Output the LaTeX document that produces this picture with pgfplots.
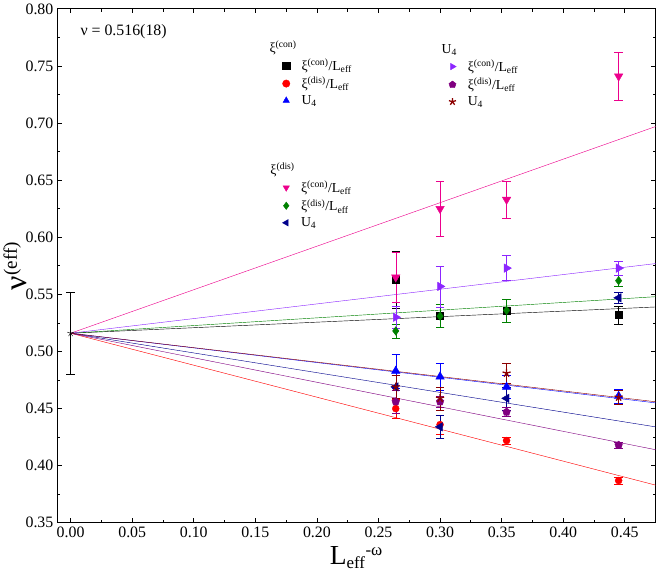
\documentclass[border=0pt]{standalone}
\usepackage{pgfplots}
\pgfplotsset{compat=1.18}
\usepackage{fontspec}
\setmainfont{Liberation Serif}
\definecolor{cviolet}{rgb}{0.55,0.15,1}
\definecolor{cpurple}{rgb}{0.5,0,0.5}
\definecolor{cdred}{rgb}{0.55,0,0}
\definecolor{cnavy}{rgb}{0,0,0.55}
\definecolor{cgreen}{rgb}{0,0.5,0}
\newcommand{\Le}{L\textsubscript{eff}}
\newcommand{\xc}{ξ\textsuperscript{(con)}}
\newcommand{\xd}{ξ\textsuperscript{(dis)}}
\newcommand{\U}{U\textsubscript{4}}
\begin{document}
\begin{tikzpicture}
\pgfplotsset{
  every axis/.append style={scale only axis, width=566pt, height=486pt,
    xmin=-0.011, xmax=0.475, ymin=0.35, ymax=0.80},
  ebar/.style={only marks, mark size=3.3pt, color=#1, error bars/y dir=both, error bars/y explicit, error bars/error bar style={color=#1}, error bars/error mark options={rotate=90,mark size=4pt,color=#1}},
  tri/.style={mark size=4.6pt},
  lg/.style={hide axis, font=\fontsize{13}{15}\selectfont,
  legend style={draw=none, fill=none, anchor=north west, row sep=3pt, column sep=10pt, nodes={inner sep=1pt}},
  legend cell align=left, legend image post style={mark size=3.5pt}},
}
\begin{axis}[
  font=\fontsize{15}{18}\selectfont,
  /pgf/number format/assume math mode=true,
  /pgf/number format/fixed, /pgf/number format/fixed zerofill, /pgf/number format/precision=2,
  xtick={0,0.05,...,0.451}, ytick={0.35,0.40,...,0.801},
  minor x tick num=1, minor y tick num=1,
  tick align=inside, axis line style={thick}, every tick/.style={black,thick},
  ylabel={\fontsize{30}{30}\selectfont ν\textsuperscript{\fontsize{18}{18}\selectfont(eff)}},
  xlabel={\fontsize{26}{26}\selectfont L\textsubscript{\fontsize{16}{16}\selectfont eff}\textsuperscript{\fontsize{16}{16}\selectfont -ω}},
  ylabel style={yshift=-8pt}, xlabel style={yshift=-2pt},
  clip=true,
]
\addplot[black] coordinates {(0,0.516) (0.475,0.539)};
\addplot[red] coordinates {(0,0.516) (0.475,0.383)};
\addplot[blue] coordinates {(0,0.516) (0.475,0.455)};
\addplot[magenta] coordinates {(0,0.516) (0.475,0.697)};
\addplot[cgreen] coordinates {(0,0.516) (0.475,0.548)};
\addplot[cnavy] coordinates {(0,0.516) (0.475,0.434)};
\addplot[cviolet] coordinates {(0,0.516) (0.475,0.577)};
\addplot[cpurple] coordinates {(0,0.516) (0.475,0.414)};
\addplot[cdred] coordinates {(0,0.516) (0.475,0.456)};
\addplot[ebar=black, mark=square*] coordinates {(0.264,0.563) +- (0,0.025) (0.300,0.531) +- (0,0.01) (0.354,0.536) +- (0,0.01) (0.445,0.532) +- (0,0.008)};
\addplot[ebar=red, mark=*] coordinates {(0.264,0.450) +- (0,0.008) (0.300,0.436) +- (0,0.008) (0.354,0.422) +- (0,0.003) (0.445,0.387) +- (0,0.003)};
\addplot[ebar=blue, tri, mark=triangle*] coordinates {(0.264,0.483) +- (0,0.015) (0.300,0.478) +- (0,0.012) (0.354,0.469) +- (0,0.01) (0.445,0.461) +- (0,0.006)};
\addplot[ebar=magenta, tri, mark=triangle*, mark options={rotate=180}] coordinates {(0.264,0.565) +- (0,0.022) (0.300,0.625) +- (0,0.024) (0.354,0.633) +- (0,0.016) (0.445,0.741) +- (0,0.021)};
\addplot[ebar=cgreen, mark=diamond*, mark size=4pt] coordinates {(0.264,0.518) +- (0,0.006) (0.300,0.531) +- (0,0.01) (0.354,0.536) +- (0,0.01) (0.445,0.562) +- (0,0.005)};
\addplot[ebar=cnavy, tri, mark=triangle*, mark options={rotate=90}] coordinates {(0.264,0.469) +- (0,0.01) (0.300,0.434) +- (0,0.01) (0.354,0.459) +- (0,0.01) (0.445,0.547) +- (0,0.005)};
\addplot[ebar=cviolet, tri, mark=triangle*, mark options={rotate=-90}] coordinates {(0.264,0.530) +- (0,0.01) (0.300,0.557) +- (0,0.018) (0.354,0.573) +- (0,0.011) (0.445,0.573) +- (0,0.006)};
\addplot[ebar=cpurple, mark=pentagon*, mark size=3.8pt] coordinates {(0.264,0.456) +- (0,0.01) (0.300,0.456) +- (0,0.005) (0.354,0.447) +- (0,0.004) (0.445,0.418) +- (0,0.003)};
\addplot[ebar=cdred, mark=star, mark size=4pt, mark options={very thick}] coordinates {(0.264,0.469) +- (0,0.01) (0.300,0.459) +- (0,0.01) (0.354,0.481) +- (0,0.009) (0.445,0.460) +- (0,0.006)};
\addplot[ebar=black, mark=star] coordinates {(0,0.516) +- (0,0.036)};
\node[anchor=west] at (axis cs:0.005,0.78) {ν = 0.516(18)};
\end{axis}
\begin{axis}[lg, legend style={at={(axis cs:0.165,0.775)}}]
\addlegendimage{empty legend}\addlegendentry{\hspace{-34pt}\xc}
\addlegendimage{only marks, mark=square*, black}\addlegendentry{\xc/\Le}
\addlegendimage{only marks, mark=*, red}\addlegendentry{\xd/\Le}
\addlegendimage{only marks, mark=triangle*, blue, mark size=4.6pt}\addlegendentry{\U}
\end{axis}
\begin{axis}[lg, legend style={at={(axis cs:0.165,0.668)}}]
\addlegendimage{empty legend}\addlegendentry{\hspace{-34pt}\xd}
\addlegendimage{only marks, mark=triangle*, magenta, mark size=4.6pt, mark options={rotate=180}}\addlegendentry{\xc/\Le}
\addlegendimage{only marks, mark=diamond*, cgreen, mark size=4pt}\addlegendentry{\xd/\Le}
\addlegendimage{only marks, mark=triangle*, cnavy, mark size=4.6pt, mark options={rotate=90}}\addlegendentry{\U}
\end{axis}
\begin{axis}[lg, legend style={at={(axis cs:0.30,0.772)}}]
\addlegendimage{empty legend}\addlegendentry{\hspace{-34pt}\U}
\addlegendimage{only marks, mark=triangle*, cviolet, mark size=4.6pt, mark options={rotate=-90}}\addlegendentry{\xc/\Le}
\addlegendimage{only marks, mark=pentagon*, cpurple, mark size=3.8pt}\addlegendentry{\xd/\Le}
\addlegendimage{only marks, mark=star, cdred, very thick, mark size=4pt}\addlegendentry{\U}
\end{axis}
\end{tikzpicture}
\end{document}
